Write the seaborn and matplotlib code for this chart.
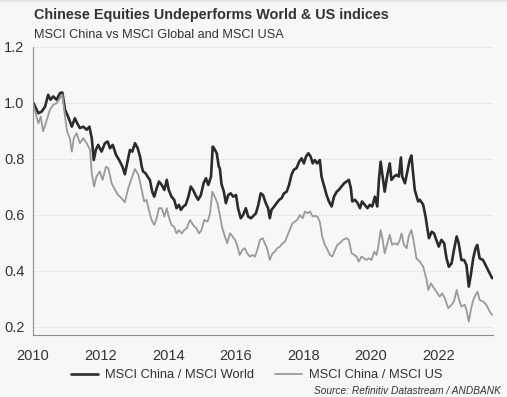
import numpy as np
import pandas as pd
import matplotlib
matplotlib.use("Agg")
import matplotlib.pyplot as plt
from matplotlib.ticker import MultipleLocator
from matplotlib.patches import Rectangle
import seaborn as sns

# MSCI China / MSCI World (dates as decimal years)
world_dates = [
    2010.01, 2010.16, 2010.26, 2010.36, 2010.45, 2010.52, 2010.60, 2010.70, 2010.80, 2010.87,
    2010.95, 2011.04, 2011.15, 2011.24, 2011.31, 2011.39, 2011.49, 2011.59, 2011.67, 2011.74,
    2011.80, 2011.86, 2011.93, 2012.03, 2012.13, 2012.21, 2012.28, 2012.36, 2012.46, 2012.55,
    2012.65, 2012.72, 2012.79, 2012.87, 2012.94, 2013.02, 2013.10, 2013.17, 2013.22, 2013.26,
    2013.33, 2013.39, 2013.46, 2013.53, 2013.59, 2013.66, 2013.73, 2013.81, 2013.89, 2013.96,
    2014.02, 2014.10, 2014.18, 2014.25, 2014.32, 2014.38, 2014.45, 2014.52, 2014.60, 2014.67,
    2014.74, 2014.81, 2014.89, 2014.97, 2015.05, 2015.12, 2015.19, 2015.27, 2015.32, 2015.36,
    2015.44, 2015.50, 2015.53, 2015.58, 2015.65, 2015.71, 2015.78, 2015.85, 2015.93, 2016.01,
    2016.07, 2016.15, 2016.22, 2016.30, 2016.37, 2016.45, 2016.52, 2016.60, 2016.67, 2016.74,
    2016.81, 2016.89, 2016.96, 2017.01, 2017.06, 2017.14, 2017.21, 2017.29, 2017.36, 2017.43,
    2017.51, 2017.58, 2017.65, 2017.72, 2017.80, 2017.88, 2017.95, 2018.02, 2018.08, 2018.15,
    2018.22, 2018.28, 2018.34, 2018.41, 2018.49, 2018.54, 2018.62, 2018.69, 2018.76, 2018.84,
    2018.91, 2018.99, 2019.05, 2019.13, 2019.21, 2019.28, 2019.35, 2019.41, 2019.45, 2019.53,
    2019.61, 2019.68, 2019.74, 2019.82, 2019.90, 2019.97, 2020.04, 2020.12, 2020.19, 2020.24,
    2020.29, 2020.35, 2020.41, 2020.48, 2020.56, 2020.61, 2020.69, 2020.76, 2020.83, 2020.89,
    2020.93, 2021.01, 2021.09, 2021.15, 2021.20, 2021.26, 2021.30, 2021.40, 2021.45, 2021.55,
    2021.62, 2021.68, 2021.72, 2021.80, 2021.87, 2021.94, 2022.01, 2022.09, 2022.17, 2022.24,
    2022.31, 2022.39, 2022.46, 2022.54, 2022.60, 2022.68, 2022.76, 2022.83, 2022.90, 2022.96,
    2023.03, 2023.10, 2023.15, 2023.22, 2023.32, 2023.42, 2023.49, 2023.59,
]
world_values = [
    1.000, 0.963, 0.969, 0.987, 1.029, 1.011, 1.023, 1.011, 1.035, 1.037,
    0.975, 0.951, 0.915, 0.945, 0.927, 0.910, 0.915, 0.904, 0.915, 0.874,
    0.796, 0.832, 0.850, 0.826, 0.856, 0.862, 0.838, 0.850, 0.814, 0.796,
    0.772, 0.745, 0.785, 0.832, 0.826, 0.856, 0.838, 0.808, 0.772, 0.755,
    0.749, 0.737, 0.725, 0.683, 0.665, 0.695, 0.719, 0.707, 0.689, 0.725,
    0.689, 0.665, 0.654, 0.624, 0.636, 0.618, 0.630, 0.636, 0.665, 0.701,
    0.689, 0.671, 0.654, 0.671, 0.713, 0.731, 0.707, 0.737, 0.844, 0.838,
    0.820, 0.772, 0.767, 0.710, 0.683, 0.642, 0.671, 0.677, 0.665, 0.671,
    0.624, 0.588, 0.600, 0.624, 0.594, 0.588, 0.596, 0.606, 0.636, 0.677,
    0.671, 0.642, 0.624, 0.588, 0.618, 0.630, 0.642, 0.654, 0.660, 0.677,
    0.683, 0.707, 0.743, 0.761, 0.767, 0.790, 0.802, 0.784, 0.808, 0.820,
    0.808, 0.784, 0.796, 0.784, 0.796, 0.737, 0.701, 0.671, 0.648, 0.630,
    0.665, 0.683, 0.689, 0.701, 0.713, 0.719, 0.725, 0.695, 0.648, 0.654,
    0.642, 0.624, 0.648, 0.636, 0.624, 0.636, 0.630, 0.665, 0.630, 0.725,
    0.790, 0.737, 0.683, 0.737, 0.784, 0.725, 0.737, 0.743, 0.737, 0.805,
    0.737, 0.713, 0.761, 0.796, 0.812, 0.737, 0.689, 0.648, 0.654, 0.636,
    0.594, 0.546, 0.517, 0.540, 0.534, 0.511, 0.487, 0.511, 0.499, 0.445,
    0.415, 0.427, 0.475, 0.523, 0.499, 0.439, 0.439, 0.421, 0.344, 0.386,
    0.445, 0.481, 0.493, 0.445, 0.439, 0.415, 0.398, 0.374,
]

# MSCI China / MSCI US
us_dates = [
    2010.01, 2010.16, 2010.23, 2010.30, 2010.41, 2010.50, 2010.60, 2010.70, 2010.80, 2010.87,
    2010.95, 2011.01, 2011.09, 2011.15, 2011.21, 2011.29, 2011.39, 2011.49, 2011.59, 2011.69,
    2011.74, 2011.81, 2011.88, 2011.98, 2012.06, 2012.16, 2012.23, 2012.33, 2012.43, 2012.52,
    2012.62, 2012.72, 2012.82, 2012.92, 2013.02, 2013.12, 2013.22, 2013.29, 2013.36, 2013.43,
    2013.51, 2013.59, 2013.66, 2013.73, 2013.81, 2013.89, 2013.96, 2014.03, 2014.10, 2014.18,
    2014.25, 2014.32, 2014.40, 2014.48, 2014.55, 2014.65, 2014.74, 2014.84, 2014.91, 2014.99,
    2015.07, 2015.17, 2015.24, 2015.31, 2015.38, 2015.46, 2015.53, 2015.60, 2015.68, 2015.75,
    2015.83, 2015.91, 2015.98, 2016.04, 2016.12, 2016.20, 2016.27, 2016.34, 2016.42, 2016.50,
    2016.57, 2016.64, 2016.72, 2016.80, 2016.86, 2016.93, 2017.01, 2017.09, 2017.16, 2017.23,
    2017.31, 2017.39, 2017.46, 2017.52, 2017.60, 2017.68, 2017.75, 2017.82, 2017.90, 2017.98,
    2018.05, 2018.12, 2018.20, 2018.28, 2018.34, 2018.42, 2018.49, 2018.56, 2018.64, 2018.72,
    2018.79, 2018.86, 2018.94, 2019.01, 2019.08, 2019.18, 2019.28, 2019.35, 2019.43, 2019.51,
    2019.58, 2019.64, 2019.72, 2019.80, 2019.87, 2019.94, 2020.02, 2020.10, 2020.17, 2020.22,
    2020.29, 2020.35, 2020.41, 2020.49, 2020.56, 2020.63, 2020.71, 2020.79, 2020.86, 2020.91,
    2020.98, 2021.06, 2021.12, 2021.20, 2021.26, 2021.35, 2021.45, 2021.55, 2021.65, 2021.70,
    2021.78, 2021.84, 2021.94, 2022.04, 2022.11, 2022.19, 2022.29, 2022.39, 2022.46, 2022.54,
    2022.60, 2022.68, 2022.78, 2022.83, 2022.90, 2022.96, 2023.03, 2023.10, 2023.16, 2023.22,
    2023.32, 2023.42, 2023.52, 2023.59,
]
us_values = [
    0.993, 0.927, 0.951, 0.898, 0.939, 0.975, 0.993, 0.999, 1.017, 1.029,
    0.951, 0.898, 0.874, 0.826, 0.874, 0.892, 0.856, 0.874, 0.856, 0.832,
    0.749, 0.701, 0.737, 0.755, 0.725, 0.772, 0.767, 0.713, 0.689, 0.671,
    0.660, 0.645, 0.695, 0.731, 0.764, 0.743, 0.689, 0.648, 0.654, 0.618,
    0.582, 0.564, 0.588, 0.624, 0.624, 0.594, 0.624, 0.588, 0.564, 0.558,
    0.534, 0.546, 0.534, 0.546, 0.552, 0.582, 0.564, 0.552, 0.534, 0.546,
    0.582, 0.576, 0.606, 0.683, 0.665, 0.642, 0.600, 0.555, 0.523, 0.499,
    0.534, 0.523, 0.511, 0.493, 0.457, 0.475, 0.481, 0.463, 0.451, 0.457,
    0.451, 0.475, 0.511, 0.517, 0.499, 0.481, 0.439, 0.463, 0.469, 0.481,
    0.487, 0.499, 0.505, 0.523, 0.546, 0.570, 0.576, 0.582, 0.600, 0.588,
    0.612, 0.606, 0.612, 0.594, 0.597, 0.594, 0.576, 0.523, 0.493, 0.475,
    0.457, 0.451, 0.475, 0.493, 0.499, 0.511, 0.517, 0.511, 0.463, 0.457,
    0.451, 0.433, 0.451, 0.445, 0.439, 0.445, 0.439, 0.469, 0.457, 0.487,
    0.546, 0.511, 0.463, 0.499, 0.529, 0.493, 0.499, 0.493, 0.511, 0.534,
    0.493, 0.481, 0.523, 0.546, 0.511, 0.445, 0.433, 0.415, 0.368, 0.332,
    0.356, 0.344, 0.326, 0.308, 0.320, 0.302, 0.267, 0.279, 0.291, 0.332,
    0.302, 0.273, 0.279, 0.261, 0.219, 0.261, 0.296, 0.314, 0.326, 0.296,
    0.291, 0.279, 0.255, 0.243,
]

title = "Chinese Equities Undeperforms World & US indices"
subtitle = "MSCI China vs MSCI Global and MSCI USA"
labels = ["MSCI China / MSCI World", "MSCI China / MSCI US"]
source = "Source: Refinitiv Datastream / ANDBANK"
year_ticks = [2010, 2012, 2014, 2016, 2018, 2020, 2022]
ratio_ticks = [0.2, 0.4, 0.6, 0.8, 1.0, 1.2]

world = pd.DataFrame({"date": world_dates, "ratio": world_values})
us = pd.DataFrame({"date": us_dates, "ratio": us_values})

sns.set_style("white")
plt.rcParams["font.family"] = ["Liberation Sans", "DejaVu Sans"]
bg = "#f7f7f7"
txt = "#333333"

fig = plt.figure(figsize=(5.07, 3.97), dpi=100, facecolor=bg)
# thin darker band along the top edge
fig.patches.append(Rectangle((0, 0.994), 1, 0.006, transform=fig.transFigure,
                             facecolor="#e6e6e6", edgecolor="none"))
ax = fig.add_axes([0.065, 0.156, 0.907, 0.726], facecolor=bg)

sns.lineplot(data=world, x="date", y="ratio", ax=ax, color="#2b2b2b",
             linewidth=1.9, estimator=None, sort=False, label=labels[0])
sns.lineplot(data=us, x="date", y="ratio", ax=ax, color="#9a9a9a",
             linewidth=1.3, estimator=None, sort=False, label=labels[1])

ax.set_xlim(2010, 2023.61)
ax.set_ylim(0.171, 1.2)
ax.set_xticks(year_ticks)
ax.set_xticklabels([str(y) for y in year_ticks])
ax.xaxis.set_minor_locator(MultipleLocator(0.25))
ax.set_yticks(ratio_ticks)
ax.set_yticklabels([f"{v:.1f}" for v in ratio_ticks])
ax.yaxis.set_minor_locator(MultipleLocator(0.05))

ax.grid(axis="y", color="#cfcfcf", linestyle=(0, (1, 1.5)), linewidth=0.6)
ax.set_axisbelow(True)
for s in ["top", "right"]:
    ax.spines[s].set_visible(False)
for s in ["left", "bottom"]:
    ax.spines[s].set_color("#8c8c8c")
    ax.spines[s].set_linewidth(0.8)
ax.tick_params(axis="both", which="major", length=4, width=0.7, color="#8c8c8c",
               labelsize=10.5, labelcolor=txt, pad=2)
ax.tick_params(axis="both", which="minor", length=2, width=0.6, color="#8c8c8c")
ax.tick_params(axis="x", pad=6)
ax.set_xlabel("")
ax.set_ylabel("")

handles, lbls = ax.get_legend_handles_labels()
ax.get_legend().remove()
fig.legend(handles, lbls, loc="center", bbox_to_anchor=(0.507, 0.055), ncol=2,
           frameon=False, fontsize=9.3, labelcolor=txt, handlelength=2.1,
           columnspacing=1.6, handletextpad=0.55)

fig.text(0.067, 0.953, title, fontsize=10.4, fontweight="bold", color=txt)
fig.text(0.067, 0.905, subtitle, fontsize=9.2, color=txt)
fig.text(0.988, 0.008, source, fontsize=7.3, style="italic", color=txt, ha="right")

fig.savefig("out.png", dpi=100, facecolor=bg)
